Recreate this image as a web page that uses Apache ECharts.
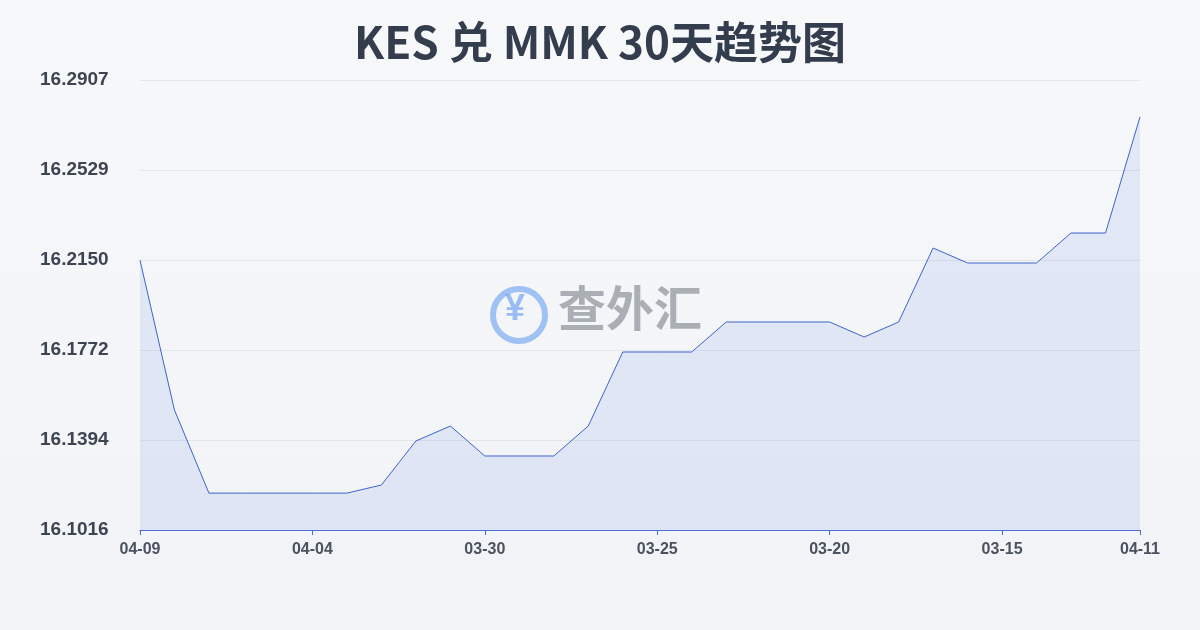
<!DOCTYPE html>
<html><head><meta charset="utf-8">
<script src="https://cdn.jsdelivr.net/npm/echarts@6/dist/echarts.min.js"></script>
<style>html,body{margin:0;padding:0;background:#f5f6f8}#myChart{width:1200px;height:630px}</style>
</head><body><div id="myChart"></div>
<script>
var dates = ['04-09','04-08','04-07','04-06','04-05','04-04','04-03','04-02','04-01','03-31',
  '03-30','03-29','03-28','03-27','03-26','03-25','03-24','03-23','03-22','03-21',
  '03-20','03-19','03-18','03-17','03-16','03-15','03-14','03-13','03-12','04-11'];
var rates = [16.2150,16.1520,16.1171,16.1171,16.1171,16.1171,16.1171,16.1205,16.1390,16.1453,
  16.1327,16.1327,16.1327,16.1453,16.1764,16.1764,16.1764,16.1890,16.1890,16.1890,
  16.1890,16.1827,16.1890,16.2201,16.2138,16.2138,16.2138,16.2264,16.2264,16.2752];
var yTicks = ['16.1016','16.1394','16.1772','16.2150','16.2529','16.2907'];
var yMin = 16.1016, yMax = 16.2907, yStep = (yMax - yMin) / 5;

var chart = echarts.init(document.getElementById('myChart'));
chart.setOption({
  backgroundColor: {type:'linear',x:0,y:0,x2:0,y2:1,colorStops:[{offset:0,color:'#f7f8fa'},{offset:1,color:'#f1f3f6'}]},
  title: {text:'KES 兑 MMK 30天趋势图', left:'center', top:15,
    textStyle:{fontSize:44,fontWeight:'bold',color:'#333d4d',fontFamily:'Noto Sans CJK SC'}},
  graphic: [
    {type:'circle', shape:{cx:519, cy:315, r:26}, style:{fill:'none', stroke:'rgba(90,150,240,0.55)', lineWidth:6}},
    {type:'text', left:505, top:292, style:{text:'¥', fontSize:36, fontWeight:'bold', fill:'rgba(90,150,240,0.6)'}},
    {type:'text', left:558, top:284, style:{text:'查外汇', fontSize:48, fontWeight:'bold',
      fill:'rgba(110,115,125,0.55)', fontFamily:'Noto Sans CJK SC'}}
  ],
  grid: {left:140, right:60, top:80, bottom:100},
  xAxis: {type:'category', boundaryGap:false, data:dates,
    axisLine:{lineStyle:{color:'#4a6fd0'}},
    axisTick:{interval:function(i){return i%5===0||i===29;}, lineStyle:{color:'#4a6fd0'}},
    axisLabel:{interval:function(i){return i%5===0||i===29;}, color:'#4a5260', fontSize:16, fontWeight:'bold', margin:12}},
  yAxis: {type:'value', min:yMin, max:yMax, interval:yStep,
    axisLabel:{formatter:function(v){return yTicks[Math.round((v - yMin) / yStep)];}, color:'#3d4552', fontSize:19, fontWeight:'bold',
      margin:100, align:'left', verticalAlign:'middle', padding:[0,0,4,0]},
    splitLine:{lineStyle:{color:'#e3e6eb'}}},
  series: [{type:'line', data:rates, symbol:'none',
    lineStyle:{color:'#3c64cc', width:1},
    areaStyle:{color:'rgba(120,150,230,0.22)'}}]
});
</script></body></html>
